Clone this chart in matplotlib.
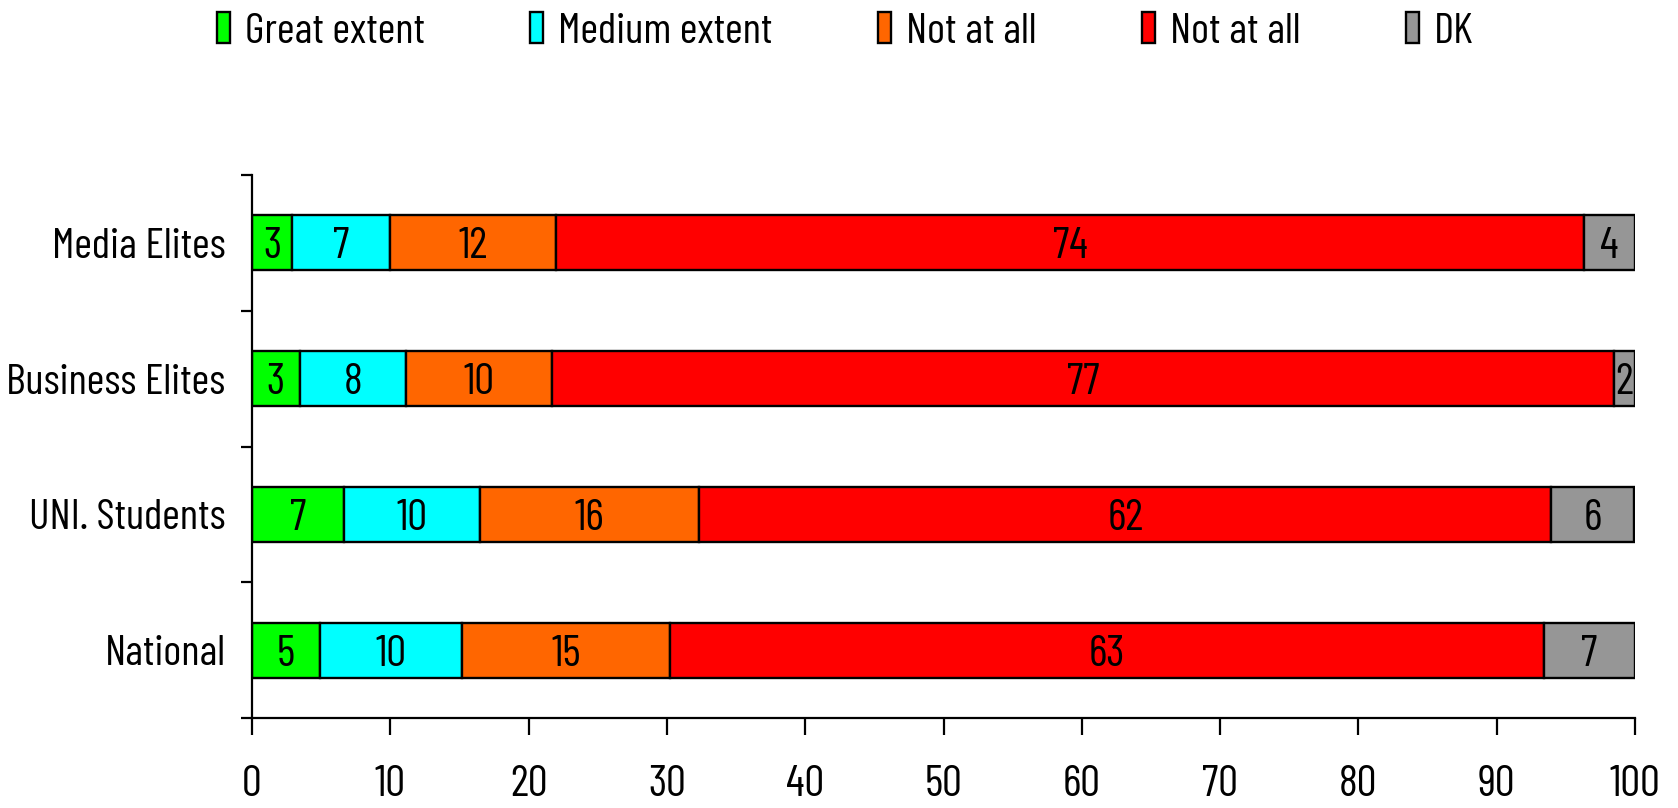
import matplotlib.pyplot as plt
import numpy as np
from matplotlib import font_manager

# narrow grotesque like the Arial Narrow in the original
names = {f.name for f in font_manager.fontManager.ttflist}
for fam in ["Barlow Condensed", "Roboto Condensed", "Liberation Sans"]:
    if fam in names:
        plt.rcParams["font.family"] = [fam, "DejaVu Sans"]
        break

groups = ["Media Elites", "Business Elites", "UNI. Students", "National"]
series = ["Great extent", "Medium extent", "Not at all", "Not at all", "DK"]
colors = ["#00ff00", "#00ffff", "#ff6600", "#ff0000", "#969696"]

# segment widths (labels are the rounded numbers printed)
great = [2.9, 3.45, 6.65, 4.9]
medium = [7.1, 7.7, 9.8, 10.3]
notat_o = [12.0, 10.55, 15.9, 15.0]
notat_r = [74.3, 76.8, 61.6, 63.2]
dk = [3.7, 1.5, 6.0, 6.6]
values = [great, medium, notat_o, notat_r, dk]

lab_great = [3, 3, 7, 5]
lab_medium = [7, 8, 10, 10]
lab_notat_o = [12, 10, 16, 15]
lab_notat_r = [74, 77, 62, 63]
lab_dk = [4, 2, 6, 7]
labels = [lab_great, lab_medium, lab_notat_o, lab_notat_r, lab_dk]

fs = 32

fig = plt.figure(figsize=(16.78, 8.08), dpi=100)
ax = fig.add_axes([252 / 1678, 90 / 808, 1383 / 1678, 543 / 808])

y = np.arange(len(groups))[::-1]
left = np.zeros(len(groups))
for vals, labs, col, name in zip(values, labels, colors, series):
    vals = np.array(vals)
    ax.barh(y, vals, left=left, height=0.405, color=col, edgecolor="black",
            linewidth=1.7, label=name)
    for yi, l, v, t in zip(y, left, vals, labs):
        ax.text(l + v / 2, yi, str(t), ha="center", va="center_baseline",
                fontsize=fs, color="black")
    left += vals

ax.set_xlim(0, 100)
ax.set_ylim(-0.5, 3.5)
ax.set_xticks(np.arange(0, 101, 10))
ax.set_yticks(y)
ax.set_yticklabels(groups)
ax.set_yticks(np.arange(-0.5, 3.6, 1), minor=True)
ax.tick_params(axis="y", which="major", length=0, pad=19, labelsize=fs)
ax.tick_params(axis="y", which="minor", length=8, width=1.6, direction="out")
ax.tick_params(axis="x", length=12, width=1.6, direction="out", pad=22,
               labelsize=fs)
ax.spines["top"].set_visible(False)
ax.spines["right"].set_visible(False)
ax.spines["left"].set_linewidth(1.6)
ax.spines["bottom"].set_linewidth(1.6)

handles, names_ = ax.get_legend_handles_labels()
fig.legend(handles, names_, ncol=5, loc="upper left",
           bbox_to_anchor=(217 / 1678, 0.985), frameon=False, fontsize=31,
           handlelength=0.3, handleheight=0.72, handletextpad=0.35,
           columnspacing=2.45, borderpad=0, borderaxespad=0)

# make sure the longest category name stays inside the figure
fig.canvas.draw()
r = fig.canvas.get_renderer()
lbls = ax.get_yticklabels()
x0 = min(t.get_window_extent(r).x0 for t in lbls)
if x0 < 6:
    w = max(t.get_window_extent(r).width for t in lbls)
    for t in lbls:
        t.set_fontsize(fs * (w + x0 - 6) / w)

fig.savefig("out.png", dpi=100)
